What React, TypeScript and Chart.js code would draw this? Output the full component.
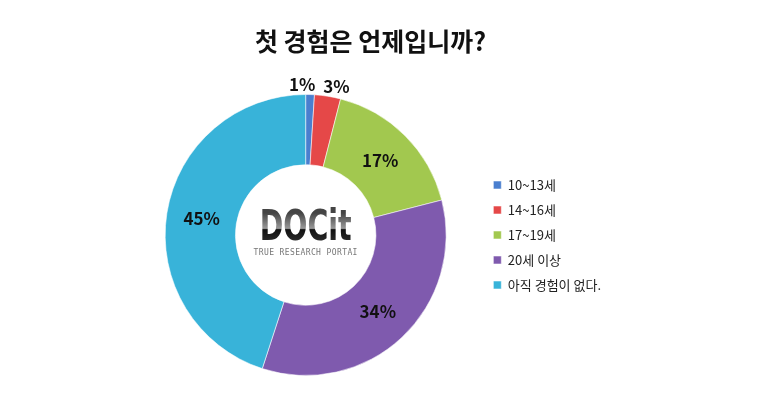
import React, { useEffect, useRef } from "react";
import { Chart, registerables } from "chart.js";

Chart.register(...registerables);

const titleText = "첫 경험은 언제입니까?";
const categories = ["10~13세", "14~16세", "17~19세", "20세 이상", "아직 경험이 없다."];
const values = [1, 3, 17, 34, 45];
const colors = ["#4A7FCF", "#E54848", "#A2C84F", "#7F5AAE", "#38B3D9"];
const logoText = "DOCit";
const logoSub = "TRUE RESEARCH PORTAI";

const FONT = "'Noto Sans CJK KR', 'Noto Sans', sans-serif";

const labelPlugin = {
  id: "sliceLabels",
  afterDatasetsDraw(chart: any) {
    const ctx = chart.ctx as CanvasRenderingContext2D;
    const meta = chart.getDatasetMeta(0);
    ctx.save();
    ctx.font = `bold 17px ${FONT}`;
    ctx.fillStyle = "#111";
    ctx.textBaseline = "middle";
    let prevSmall = false;
    meta.data.forEach((arc: any, i: number) => {
      const p = arc.getProps(["x", "y", "startAngle", "endAngle", "innerRadius", "outerRadius"], true);
      const mid = (p.startAngle + p.endAngle) / 2;
      const v = values[i];
      const small = v < 5;
      const r = small ? p.outerRadius + 10 : (p.innerRadius + p.outerRadius) / 2;
      let x = p.x + Math.cos(mid) * r;
      const y = p.y + Math.sin(mid) * r;
      if (small) {
        const nextSmall = i + 1 < values.length && values[i + 1] < 5;
        if (!prevSmall && nextSmall) {
          ctx.textAlign = "right";
          x += 5;
        } else if (prevSmall) {
          ctx.textAlign = "left";
          x -= 6;
        } else {
          ctx.textAlign = "center";
        }
      } else {
        ctx.textAlign = "center";
      }
      ctx.fillText(`${v}%`, x, y);
      prevSmall = small;
    });
    // center logo
    const a = meta.data[0].getProps(["x", "y"], true);
    const cx = a.x;
    const cy = a.y;
    ctx.textAlign = "center";
    ctx.font = `900 42px 'DejaVu Sans', sans-serif`;
    const w = ctx.measureText(logoText).width;
    const target = 92;
    ctx.save();
    ctx.translate(cx, cy - 6);
    ctx.scale(target / w, 1);
    const g = ctx.createLinearGradient(0, -16, 0, 16);
    g.addColorStop(0, "#444");
    g.addColorStop(0.48, "#999");
    g.addColorStop(0.52, "#111");
    g.addColorStop(1, "#333");
    ctx.fillStyle = g;
    ctx.fillText(logoText, 0, 0);
    ctx.restore();
    ctx.font = `8px 'DejaVu Sans Mono', monospace`;
    (ctx as any).letterSpacing = "0.4px";
    ctx.fillStyle = "#777";
    ctx.fillText(logoSub, cx, cy + 18);
    ctx.restore();
  },
};

export default function App() {
  const ref = useRef<HTMLCanvasElement>(null);
  useEffect(() => {
    const chart = new Chart(ref.current!, {
      type: "doughnut",
      data: {
        labels: categories,
        datasets: [
          {
            data: values,
            backgroundColor: colors,
            borderColor: "rgba(255,255,255,0.55)",
            borderWidth: 1,
          },
        ],
      },
      options: {
        responsive: false,
        animation: false,
        cutout: "50%",
        layout: { padding: { left: 130, right: 149, top: 0, bottom: 34 } },
        plugins: {
          title: {
            display: true,
            text: titleText,
            color: "#111",
            font: { family: FONT, size: 25, weight: "bold" },
            padding: { top: 26, bottom: 38 },
          },
          legend: {
            position: "right",
            fullSize: false,
            labels: {
              boxWidth: 8,
              boxHeight: 8,
              padding: 12,
              color: "#222",
              font: { family: FONT, size: 13 },
            },
          },
          tooltip: { enabled: false },
        },
      },
      plugins: [labelPlugin],
    });
    return () => chart.destroy();
  }, []);
  return (
    <div style={{ position: "fixed", left: 0, top: 0, width: 760, height: 410, background: "#fff" }}>
      <canvas ref={ref} width={760} height={410} />
    </div>
  );
}
